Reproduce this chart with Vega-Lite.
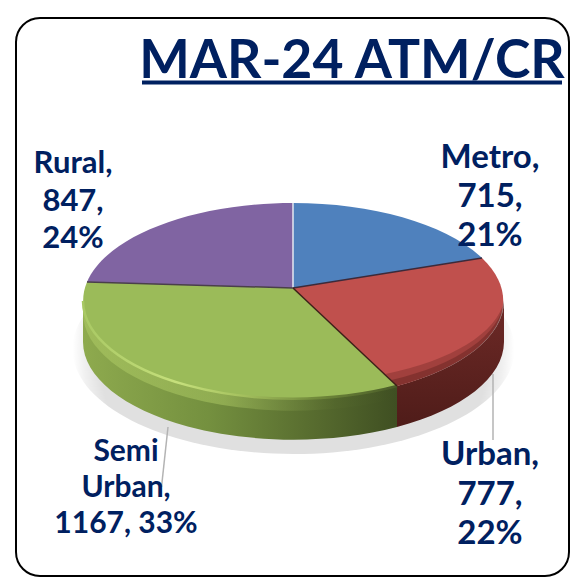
{
"$schema":"https://vega.github.io/schema/vega-lite/v6.json",
"width":553,"height":558,
"autosize":{"type":"none"},
"padding":{"left":16,"top":18,"right":1,"bottom":1},
"background":"white",
"view":{"stroke":"#000000","strokeWidth":2,"cornerRadius":24,"fill":"white"},
"resolve":{"scale":{"shape":"independent","stroke":"independent","fill":"independent"}},
"data":{"values":[
{"category":"Metro","value":715,"pct":21,"label":["Metro,","715,","21%"]},
{"category":"Urban","value":777,"pct":22,"label":["Urban,","777,","22%"]},
{"category":"Semi Urban","value":1167,"pct":33,"label":["Semi","Urban,","1167, 33%"]},
{"category":"Rural","value":847,"pct":24,"label":["Rural,","847,","24%"]}
]},
"layer":[
{"transform":[{"filter":"datum.category=='Metro'"}],
 "mark":{"type":"point","filled":true,"opacity":1,"strokeWidth":0,"size":4,
  "shape":"M-220,52 A221,105 0 0 1 222,52 A221,105 0 0 1 -220,52 Z",
  "fill":{"gradient":"radial","x1":0.5,"y1":0.5,"r1":0,"x2":0.5,"y2":0.5,"r2":0.5,"stops":[{"offset":0,"color":"#e0e0e0"},{"offset":0.88,"color":"#e0e0e0"},{"offset":0.95,"color":"#f0f0f0"},{"offset":1,"color":"#ffffff"}]}}},
{"transform":[{"filter":"datum.category=='Urban'"}],
 "mark":{"type":"point","filled":true,"opacity":1,"strokeWidth":0,"size":4,
  "shape":"M211.5,4 A210.5,98 0 0 1 104.5,89 L104.5,130 A210.5,98 0 0 0 211.5,45 Z",
  "fill":{"gradient":"linear","x1":0,"y1":0,"x2":0,"y2":1,"stops":[{"offset":0,"color":"#6e2a27"},{"offset":1,"color":"#4f1c19"}]}}},
{"transform":[{"filter":"datum.category=='Semi Urban'"}],
 "mark":{"type":"point","filled":true,"opacity":1,"strokeWidth":0,"size":4,
  "shape":"M104.5,89 A210.5,98 0 0 1 -209.5,4 L-209.5,45 A210.5,98 0 0 0 104.5,130 Z",
  "fill":{"gradient":"linear","x1":0,"y1":0,"x2":1,"y2":0,"stops":[{"offset":0,"color":"#8eaa4e"},{"offset":0.4,"color":"#74903f"},{"offset":0.75,"color":"#566a2e"},{"offset":1,"color":"#3f4f22"}]}}},
{"transform":[{"filter":"datum.category=='Semi Urban'"}],
 "mark":{"type":"point","filled":true,"opacity":0.45,"strokeWidth":0,"size":4,
  "shape":"M104.5,89 A210.5,98 0 0 1 -209.5,4 L-209.5,16 A210.5,98 0 0 0 104.5,101 Z",
  "fill":{"gradient":"linear","x1":0,"y1":0,"x2":1,"y2":0,"stops":[{"offset":0,"color":"#b5d26a"},{"offset":0.45,"color":"#b5d26a"},{"offset":0.8,"color":"#566a2e"},{"offset":1,"color":"#3f4f22"}]}}},
{"mark":{"type":"point","filled":true,"opacity":1,"strokeWidth":0,"size":4},
 "encoding":{
  "shape":{"field":"category","type":"nominal","legend":null,"scale":{"domain":["Metro","Urban","Semi Urban","Rural"],"range":[
   "M0.5,-9 L0.5,-94 A210.5,98 0 0 1 189.5,-39 Z",
   "M0.5,-9 L189.5,-39 A210.5,98 0 0 1 104.5,89 Z",
   "M0.5,-9 L104.5,89 A210.5,98 0 0 1 -205.5,-15 Z",
   "M0.5,-9 L-205.5,-15 A210.5,98 0 0 1 0.5,-94 Z"]}},
  "fill":{"field":"category","type":"nominal","legend":null,"scale":{"domain":["Metro","Urban","Semi Urban","Rural"],"range":["#4f81bd","#c0504d","#9bbb59","#8064a2"]}}
 }},
{"transform":[{"filter":"datum.category=='Urban'"}],
 "mark":{"type":"point","filled":true,"opacity":0.3,"strokeWidth":0,"size":4,"fill":"#5a1f1c",
  "shape":"M211.5,4 A210.5,98 0 0 1 104.5,89 L93,77 A204,90 0 0 0 211.5,4 Z"}},
{"transform":[{"filter":"datum.category=='Urban'"}],
 "mark":{"type":"point","filled":true,"opacity":0.4,"strokeWidth":0,"size":4,"fill":"#5a1f1c",
  "shape":"M211.5,4 A210.5,98 0 0 1 104.5,89 L99,83 A207,94 0 0 0 211.5,4 Z"}},
{"transform":[{"filter":"datum.category=='Semi Urban'"}],
 "mark":{"type":"point","filled":false,"opacity":1,"strokeWidth":2.5,"size":4,"fill":"transparent",
  "stroke":{"gradient":"linear","x1":0,"y1":0,"x2":1,"y2":0,"stops":[{"offset":0,"color":"#a9c964"},{"offset":0.3,"color":"#c6e07c"},{"offset":0.5,"color":"#a6c25f"},{"offset":0.75,"color":"#6f873a"},{"offset":1,"color":"#4a5c28"}]},
  "shape":"M104.5,89 A210.5,98 0 0 1 -209.5,4"}},
{"mark":{"type":"point","filled":false,"opacity":1,"strokeWidth":1.5,"size":4,"fill":"transparent"},
 "encoding":{
  "shape":{"field":"category","type":"nominal","legend":null,"scale":{"domain":["Metro","Urban","Semi Urban","Rural"],"range":[
   "M0.5,-9 L0.5,-94",
   "M0.5,-9 L189.5,-39",
   "M0.5,-9 L104.5,89",
   "M0.5,-9 L-205.5,-15"]}},
  "stroke":{"field":"category","type":"nominal","legend":null,"scale":{"domain":["Metro","Urban","Semi Urban","Rural"],"range":["#e4e8f0","#3c2a3a","#3d2018","#4a3f4a"]}}
 }},
{"transform":[{"filter":"datum.category=='Semi Urban' || datum.category=='Urban'"}],
 "mark":{"type":"point","filled":false,"opacity":1,"strokeWidth":1.5,"size":4,"fill":"transparent","stroke":"#b3b3b3"},
 "encoding":{"shape":{"field":"category","type":"nominal","legend":null,"scale":{"domain":["Urban","Semi Urban"],"range":["M200.5,77 L200.5,143","M-124.5,130 L-131,190"]}}}},
{"transform":[{"filter":"datum.category=='Rural'"}],
 "mark":{"type":"text","font":"Lato","fontWeight":"bold","fontSize":31,"color":"#002060","align":"center","baseline":"alphabetic","dx":-219.5,"dy":-124,"lineHeight":37.5},
 "encoding":{"text":{"field":"label"}}},
{"transform":[{"filter":"datum.category=='Metro'"}],
 "mark":{"type":"text","font":"Lato","fontWeight":"bold","fontSize":33,"color":"#002060","align":"center","baseline":"alphabetic","dx":197.5,"dy":-129,"lineHeight":39},
 "encoding":{"text":{"field":"label"}}},
{"transform":[{"filter":"datum.category=='Urban'"}],
 "mark":{"type":"text","font":"Lato","fontWeight":"bold","fontSize":33,"color":"#002060","align":"center","baseline":"alphabetic","dx":197.5,"dy":168,"lineHeight":39.5},
 "encoding":{"text":{"field":"label"}}},
{"transform":[{"filter":"datum.category=='Semi Urban'"}],
 "mark":{"type":"text","font":"Lato","fontWeight":"bold","fontSize":30,"color":"#002060","align":"center","baseline":"alphabetic","dx":-166.5,"dy":164,"lineHeight":36},
 "encoding":{"text":{"field":"label"}}},
{"data":{"values":[{"title":"MAR-24 ATM/CR"}]},
 "mark":{"type":"text","font":"Lato","fontWeight":"bold","fontSize":53.5,"color":"#002060","align":"center","baseline":"alphabetic","dx":59.5,"dy":-219},
 "encoding":{"text":{"field":"title"}}},
{"data":{"values":[{"title":"MAR-24 ATM/CR"}]},
 "mark":{"type":"point","filled":false,"opacity":1,"strokeWidth":4,"size":4,"fill":"transparent","stroke":"#002060","shape":"M-150.5,-214.5 L269.5,-214.5"}}
]
}
